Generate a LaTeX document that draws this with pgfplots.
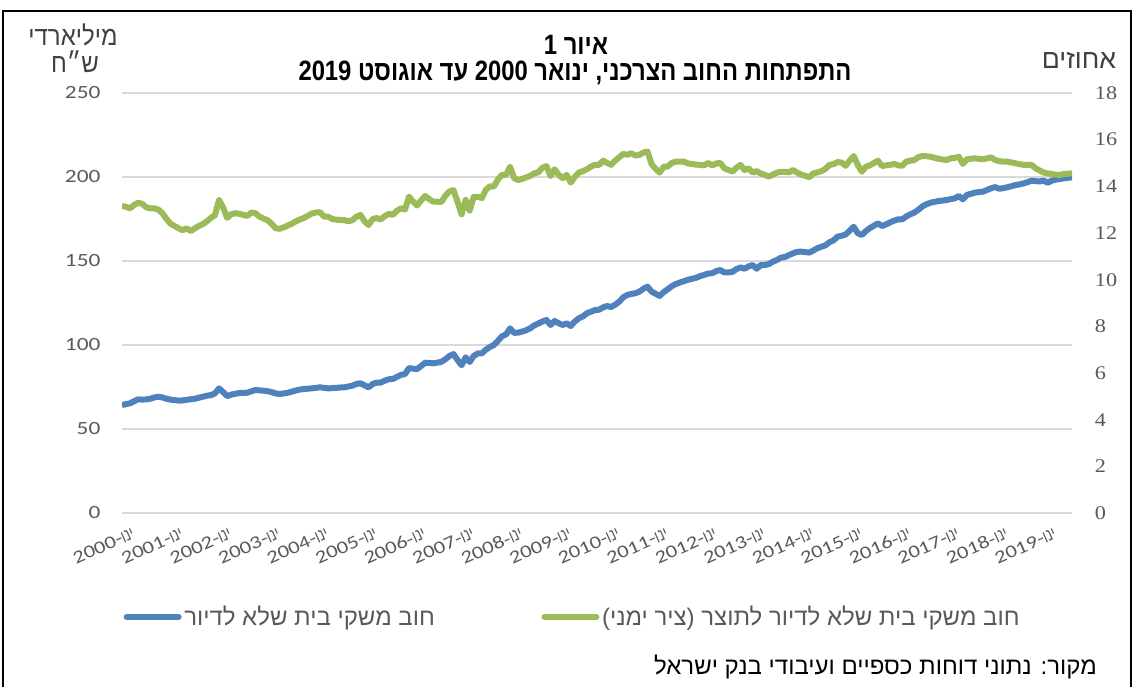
\documentclass[border=0pt]{standalone}
\usepackage{fontspec}
\usepackage{pgfplots}
\usepackage{pgfplotstable}
\pgfplotsset{compat=1.18}
\TeXXeTstate=1
\newfontfamily\hebt[Script=Hebrew,FakeStretch=0.78]{Liberation Sans}
\newfontfamily\hebb[Script=Hebrew,FakeStretch=0.85]{Liberation Sans}
\newfontfamily\hebw[Script=Hebrew,FakeStretch=0.9]{Liberation Sans}
\newfontfamily\hebn[Script=Hebrew]{Liberation Sans}
\newfontfamily\carl[FakeStretch=1.25]{Carlito}
\newfontfamily\ser[FakeStretch=1.15]{Liberation Serif}
\definecolor{serblue}{HTML}{4F81BD}
\definecolor{sergreen}{HTML}{9BBB59}
\definecolor{gridgray}{HTML}{D9D9D9}
\definecolor{tickgray}{HTML}{595959}
\definecolor{txtgray}{HTML}{404040}

\pgfplotstableread{
i debt ratio
0 64.3 13.16
1 64.8 13.12
2 65.3 13.06
3 66.5 13.20
4 67.7 13.30
5 67.5 13.25
6 67.6 13.10
7 68.0 13.06
8 68.8 13.06
9 69.2 13.00
10 68.8 12.85
11 68.0 12.60
12 67.5 12.40
13 67.2 12.30
14 66.9 12.20
15 67.0 12.12
16 67.4 12.20
17 67.7 12.08
18 68.0 12.20
19 68.6 12.30
20 69.2 12.38
21 69.8 12.50
22 70.2 12.65
23 71.2 12.76
24 74.2 13.42
25 72.0 13.10
26 69.6 12.65
27 70.4 12.80
28 71.0 12.85
29 71.4 12.82
30 71.5 12.78
31 71.6 12.73
32 72.5 12.88
33 73.2 12.85
34 73.0 12.70
35 72.8 12.62
36 72.5 12.55
37 72.0 12.40
38 71.2 12.20
39 70.8 12.18
40 71.2 12.24
41 71.6 12.32
42 72.2 12.40
43 72.9 12.50
44 73.5 12.58
45 73.8 12.64
46 74.0 12.74
47 74.2 12.84
48 74.5 12.88
49 74.8 12.89
50 74.5 12.70
51 74.2 12.70
52 74.3 12.60
53 74.5 12.57
54 74.7 12.56
55 74.8 12.55
56 75.3 12.50
57 75.8 12.55
58 76.8 12.70
59 77.2 12.77
60 76.0 12.50
61 74.8 12.34
62 76.8 12.60
63 77.6 12.64
64 77.6 12.58
65 78.8 12.72
66 79.6 12.82
67 79.8 12.78
68 81.0 12.95
69 82.2 13.06
70 82.7 13.00
71 86.3 13.56
72 85.9 13.35
73 85.7 13.18
74 87.5 13.40
75 89.5 13.59
76 89.3 13.45
77 89.1 13.34
78 89.5 13.34
79 90.0 13.33
80 91.5 13.60
81 93.5 13.78
82 94.6 13.84
83 91.1 13.34
84 87.9 12.80
85 92.7 13.42
86 89.9 12.96
87 93.5 13.55
88 95.0 13.55
89 95.0 13.50
90 97.2 13.85
91 98.8 14.00
92 100.0 13.99
93 102.5 14.30
94 105.2 14.49
95 106.3 14.49
96 109.9 14.84
97 107.2 14.35
98 107.4 14.27
99 108.0 14.32
100 108.8 14.38
101 110.0 14.45
102 111.7 14.56
103 112.8 14.60
104 114.0 14.80
105 114.9 14.87
106 111.9 14.44
107 114.3 14.73
108 113.0 14.50
109 111.9 14.35
110 112.9 14.49
111 111.3 14.16
112 114.0 14.40
113 115.9 14.59
114 117.0 14.65
115 118.9 14.73
116 119.8 14.85
117 120.8 14.92
118 121.0 14.92
119 122.4 15.10
120 123.2 15.00
121 122.6 14.92
122 124.0 15.10
123 125.8 15.25
124 128.4 15.39
125 129.8 15.35
126 130.4 15.42
127 130.8 15.32
128 131.8 15.35
129 133.5 15.45
130 134.7 15.49
131 131.8 14.95
132 130.5 14.75
133 129.2 14.59
134 131.5 14.84
135 133.2 14.85
136 135.0 15.00
137 136.3 15.06
138 137.2 15.06
139 138.0 15.06
140 138.8 14.98
141 139.4 14.96
142 140.0 14.93
143 141.0 14.92
144 141.7 14.90
145 142.5 15.00
146 142.7 14.90
147 144.0 14.98
148 144.6 15.00
149 143.2 14.77
150 143.2 14.70
151 143.5 14.63
152 145.2 14.80
153 146.2 14.92
154 145.4 14.70
155 146.8 14.77
156 147.6 14.59
157 145.4 14.65
158 147.6 14.55
159 147.6 14.49
160 148.2 14.42
161 149.6 14.50
162 150.6 14.59
163 152.0 14.62
164 152.4 14.62
165 153.5 14.60
166 154.6 14.70
167 155.4 14.59
168 155.6 14.50
169 155.3 14.45
170 155.0 14.39
171 156.2 14.55
172 157.6 14.60
173 158.5 14.65
174 159.3 14.75
175 161.2 14.92
176 162.3 14.95
177 164.5 15.04
178 165.0 15.02
179 165.8 14.88
180 168.0 15.10
181 170.4 15.30
182 166.5 14.92
183 165.5 14.63
184 167.8 14.84
185 169.6 14.90
186 171.0 15.00
187 172.4 15.10
188 170.8 14.87
189 171.8 14.90
190 173.0 14.92
191 174.0 14.96
192 174.8 14.90
193 174.8 14.88
194 176.5 15.06
195 177.8 15.10
196 178.8 15.13
197 180.5 15.25
198 182.5 15.30
199 183.8 15.29
200 184.7 15.27
201 185.2 15.22
202 185.7 15.18
203 186.0 15.15
204 186.3 15.13
205 186.8 15.20
206 187.3 15.22
207 188.7 15.27
208 186.7 14.96
209 189.3 15.16
210 190.0 15.18
211 190.7 15.20
212 191.0 15.18
213 191.3 15.16
214 192.3 15.20
215 193.3 15.24
216 194.0 15.13
217 193.0 15.08
218 193.4 15.06
219 193.9 15.06
220 194.5 15.02
221 195.2 14.99
222 195.6 14.95
223 196.2 14.92
224 196.9 14.92
225 197.8 14.92
226 197.5 14.77
227 197.4 14.68
228 197.8 14.59
229 196.6 14.55
230 197.8 14.53
231 198.4 14.50
232 198.8 14.49
233 199.2 14.53
234 199.5 14.54
235 199.8 14.56
}\datatable

\newcommand{\yr}[1]{{\carl #1-}{\hebt ינו}}

\begin{document}
\begin{tikzpicture}[x=0.75pt,y=0.75pt]
\path[use as bounding box] (0,0) rectangle (1134,686);
% frame
\draw[black,line width=1.2pt] (3,-5) -- (3,675) -- (1131,675) -- (1131,-5);

\begin{axis}[
  at={(91.5pt,129.75pt)}, anchor=south west,
  scale only axis, width=712.5pt, height=315pt,
  xmin=0, xmax=235, ymin=0, ymax=250,
  ytick={0,50,...,250},
  xtick={0,12,...,228},
  xticklabels={\yr{2000},\yr{2001},\yr{2002},\yr{2003},\yr{2004},\yr{2005},\yr{2006},\yr{2007},\yr{2008},\yr{2009},\yr{2010},\yr{2011},\yr{2012},\yr{2013},\yr{2014},\yr{2015},\yr{2016},\yr{2017},\yr{2018},\yr{2019}},
  axis line style={draw=none},
  major tick length=0pt,
  ymajorgrids, grid style={gridgray,line width=1.2pt},
  /pgf/number format/assume math mode=true,
  yticklabel style={font=\carl\fontsize{14}{14}\selectfont, text=tickgray, anchor=east, inner sep=0pt, xshift=-16pt},
  xticklabel style={font=\carl\fontsize{13.5}{13.5}\selectfont, text=tickgray, rotate=24, anchor=east, inner sep=0pt, yshift=-17pt, xshift=2pt},
  legend columns=2,
  legend style={at={(0,0)}, anchor=west, xshift=-2pt, yshift=-78pt, draw=none, fill=none,
    font=\hebn\fontsize{18}{18}\selectfont, text=tickgray,
    /tikz/every even column/.append style={column sep=78pt}},
  legend image code/.code={\draw[#1, line width=4.5pt, line cap=round] (2pt,0pt) -- (41pt,0pt);},
]
\addplot[serblue, line width=4.5pt, line join=round] table[x=i, y=debt] {\datatable};
\addlegendentry{\beginR חוב משקי בית שלא לדיור\endR}
\addlegendimage{sergreen, line width=4.5pt}
\addlegendentry{\beginR חוב משקי בית שלא לדיור לתוצר (ציר ימני)\endR}
\end{axis}

\begin{axis}[
  at={(91.5pt,129.75pt)}, anchor=south west,
  scale only axis, width=712.5pt, height=315pt,
  xmin=0, xmax=235, ymin=0, ymax=18,
  ytick={0,2,...,18},
  axis y line*=right, axis x line=none,
  axis line style={draw=none},
  major tick length=0pt,
  /pgf/number format/assume math mode=true,
  yticklabel style={font=\ser\fontsize{14.5}{14.5}\selectfont, text=tickgray, anchor=west, inner sep=0pt, xshift=17pt},
]
\addplot[sergreen, line width=4.5pt, line join=round] table[x=i, y=ratio] {\datatable};
\end{axis}

% titles
\node[font=\hebb\bfseries\fontsize{21}{21}\selectfont] at (576,641) {\beginR איור 1\endR};
\node[font=\hebb\bfseries\fontsize{21}{21}\selectfont] at (575,613) {\beginR התפתחות החוב הצרכני, ינואר 2000 עד אוגוסט 2019\endR};
\node[font=\hebw\fontsize{20}{20}\selectfont, text=txtgray] at (73,651) {\beginR מיליארדי\endR};
\node[font=\hebw\fontsize{20}{20}\selectfont, text=txtgray] at (75,624) {\beginR ש״ח\endR};
\node[font=\hebn\fontsize{20}{20}\selectfont, text=txtgray] at (1079,626) {\beginR אחוזים\endR};
\node[font=\hebn\fontsize{18}{18}\selectfont, anchor=east, inner sep=0pt] at (1097,19) {\beginR מקור: נתוני דוחות כספיים ועיבודי בנק ישראל\endR};
\end{tikzpicture}
\end{document}
